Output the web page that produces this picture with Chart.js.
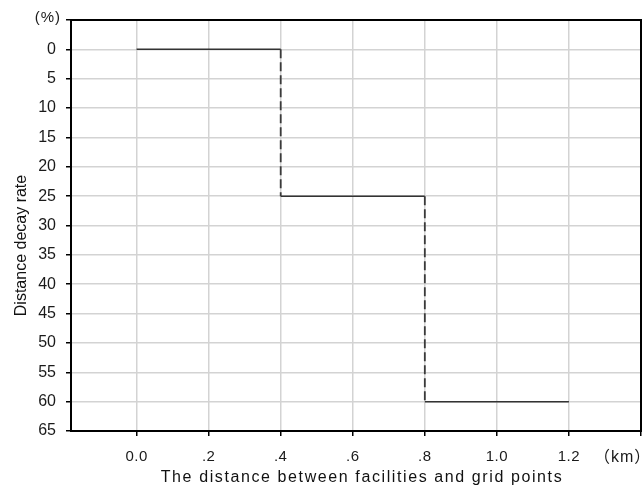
<!DOCTYPE html>
<html lang="en">
<head>
  <meta charset="UTF-8" />
  <title>Distance decay rate</title>
  <script src="https://cdn.jsdelivr.net/npm/chart.js"></script>
  <style>
    html, body { margin: 0; padding: 0; background: #fff; }
    .wrap { width: 644px; height: 489px; }
  </style>
</head>
<body>
  <div class="wrap">
    <canvas id="chart" width="644" height="489"></canvas>
  </div>

  <script>
    // step function: rate applies from stepStart to stepEnd (km)
    const stepStart = [0.0, 0.4, 0.8];
    const stepEnd = [0.4, 0.8, 1.2];
    const decayRate = [0, 25, 60];

    const xTickValues = [0, 0.2, 0.4, 0.6, 0.8, 1.0, 1.2, 1.4];
    const xTickLabels = ["0.0", ".2", ".4", ".6", ".8", "1.0", "1.2", ""];
    const yTickValues = [-5, 0, 5, 10, 15, 20, 25, 30, 35, 40, 45, 50, 55, 60, 65];
    const yTickLabels = ["", "0", "5", "10", "15", "20", "25", "30", "35", "40", "45", "50", "55", "60", "65"];

    const xUnit = "（km）";
    const yUnit = "(%)";

    // flat parts (solid) and the jumps between them (dashed), split by gaps
    const levels = [];
    const jumps = [];
    stepStart.forEach((s, i) => {
      levels.push({ x: s, y: decayRate[i] }, { x: stepEnd[i], y: decayRate[i] }, { x: stepEnd[i], y: null });
      if (i > 0) {
        jumps.push({ x: s, y: decayRate[i - 1] }, { x: s, y: decayRate[i] }, { x: s, y: null });
      }
    });

    const FONT = "'Liberation Sans', Arial, 'Noto Sans CJK SC', sans-serif";
    Chart.defaults.font.family = FONT;
    Chart.defaults.color = "#1a1a1a";

    // small tweaks to how the scale texts are painted (spacing / shift)
    function wrap(scale, name, spacing, dx, dy) {
      if (scale["_w_" + name]) return;
      const orig = scale[name].bind(scale);
      scale[name] = function (...args) {
        const ctx = scale.ctx;
        ctx.save();
        ctx.letterSpacing = spacing;
        ctx.translate(dx, dy);
        orig(...args);
        ctx.restore();
      };
      scale["_w_" + name] = true;
    }

    const noPad = s => { s.paddingLeft = 0; s.paddingRight = 0; s.paddingTop = 0; s.paddingBottom = 0; };

    const frame = {
      id: "frame",
      beforeDraw(chart) {
        wrap(chart.scales.x, "drawLabels", "0.5px", 0, 0);
        wrap(chart.scales.x, "drawTitle", "1.6px", 6, 0);
        wrap(chart.scales.y, "drawTitle", "0px", 0, 20);
      },
      afterDraw(chart) {
        const { ctx, chartArea: a } = chart;
        ctx.save();
        ctx.strokeStyle = "#000";
        ctx.lineWidth = 2;
        ctx.strokeRect(a.left, a.top, a.right - a.left, a.bottom - a.top);
        ctx.fillStyle = "#1a1a1a";
        ctx.font = "15px " + FONT;
        ctx.textBaseline = "middle";
        ctx.textAlign = "right";
        ctx.letterSpacing = "1px";
        ctx.fillText(yUnit, a.left - 10, a.top - 2);
        ctx.textAlign = "left";
        ctx.font = "16px " + FONT;
        ctx.fillText(xUnit, a.right - 47, 458);
        ctx.restore();
      }
    };

    new Chart(document.getElementById("chart"), {
      type: "scatter",
      data: {
        datasets: [{
          data: levels,
          showLine: true,
          spanGaps: false,
          borderColor: "#333",
          borderWidth: 1.5,
          pointRadius: 0
        }, {
          data: jumps,
          showLine: true,
          spanGaps: false,
          borderColor: "#3a3a3a",
          borderWidth: 1.8,
          borderDash: [9, 4],
          pointRadius: 0
        }]
      },
      options: {
        responsive: false,
        animation: false,
        layout: { autoPadding: false, padding: { top: 20, right: 3, left: 0, bottom: 0 } },
        plugins: { legend: { display: false }, tooltip: { enabled: false } },
        scales: {
          x: {
            type: "linear",
            min: -0.182,
            max: 1.4,
            afterBuildTicks: s => { s.ticks = xTickValues.map(v => ({ value: v })); },
            afterFit: s => { s.height = 58; noPad(s); },
            ticks: {
              autoSkip: false,
              maxRotation: 0,
              padding: 12,
              font: { size: 15 },
              callback: (v, i) => xTickLabels[i]
            },
            grid: { color: "#d3d3d3", lineWidth: 1.5, tickColor: "#000", tickLength: 5, tickWidth: 1.5 },
            border: { color: "#000", width: 2 },
            title: {
              display: true,
              text: "The distance between facilities and grid points",
              font: { size: 16 },
              color: "#111",
              padding: { top: 0, bottom: 2 }
            }
          },
          y: {
            type: "linear",
            reverse: true,
            min: -5,
            max: 65,
            afterBuildTicks: s => { s.ticks = yTickValues.map(v => ({ value: v })); },
            afterFit: s => { s.width = 71; noPad(s); },
            ticks: {
              autoSkip: false,
              padding: 10,
              font: { size: 16 },
              callback: (v, i) => yTickLabels[i]
            },
            grid: { color: "#d3d3d3", lineWidth: 1.5, tickColor: "#000", tickLength: 5, tickWidth: 1.5 },
            border: { color: "#000", width: 2 },
            title: {
              display: true,
              text: "Distance decay rate",
              font: { size: 16 },
              color: "#111",
              padding: { top: 12, bottom: 0 }
            }
          }
        }
      },
      plugins: [frame]
    });
  </script>
</body>
</html>
